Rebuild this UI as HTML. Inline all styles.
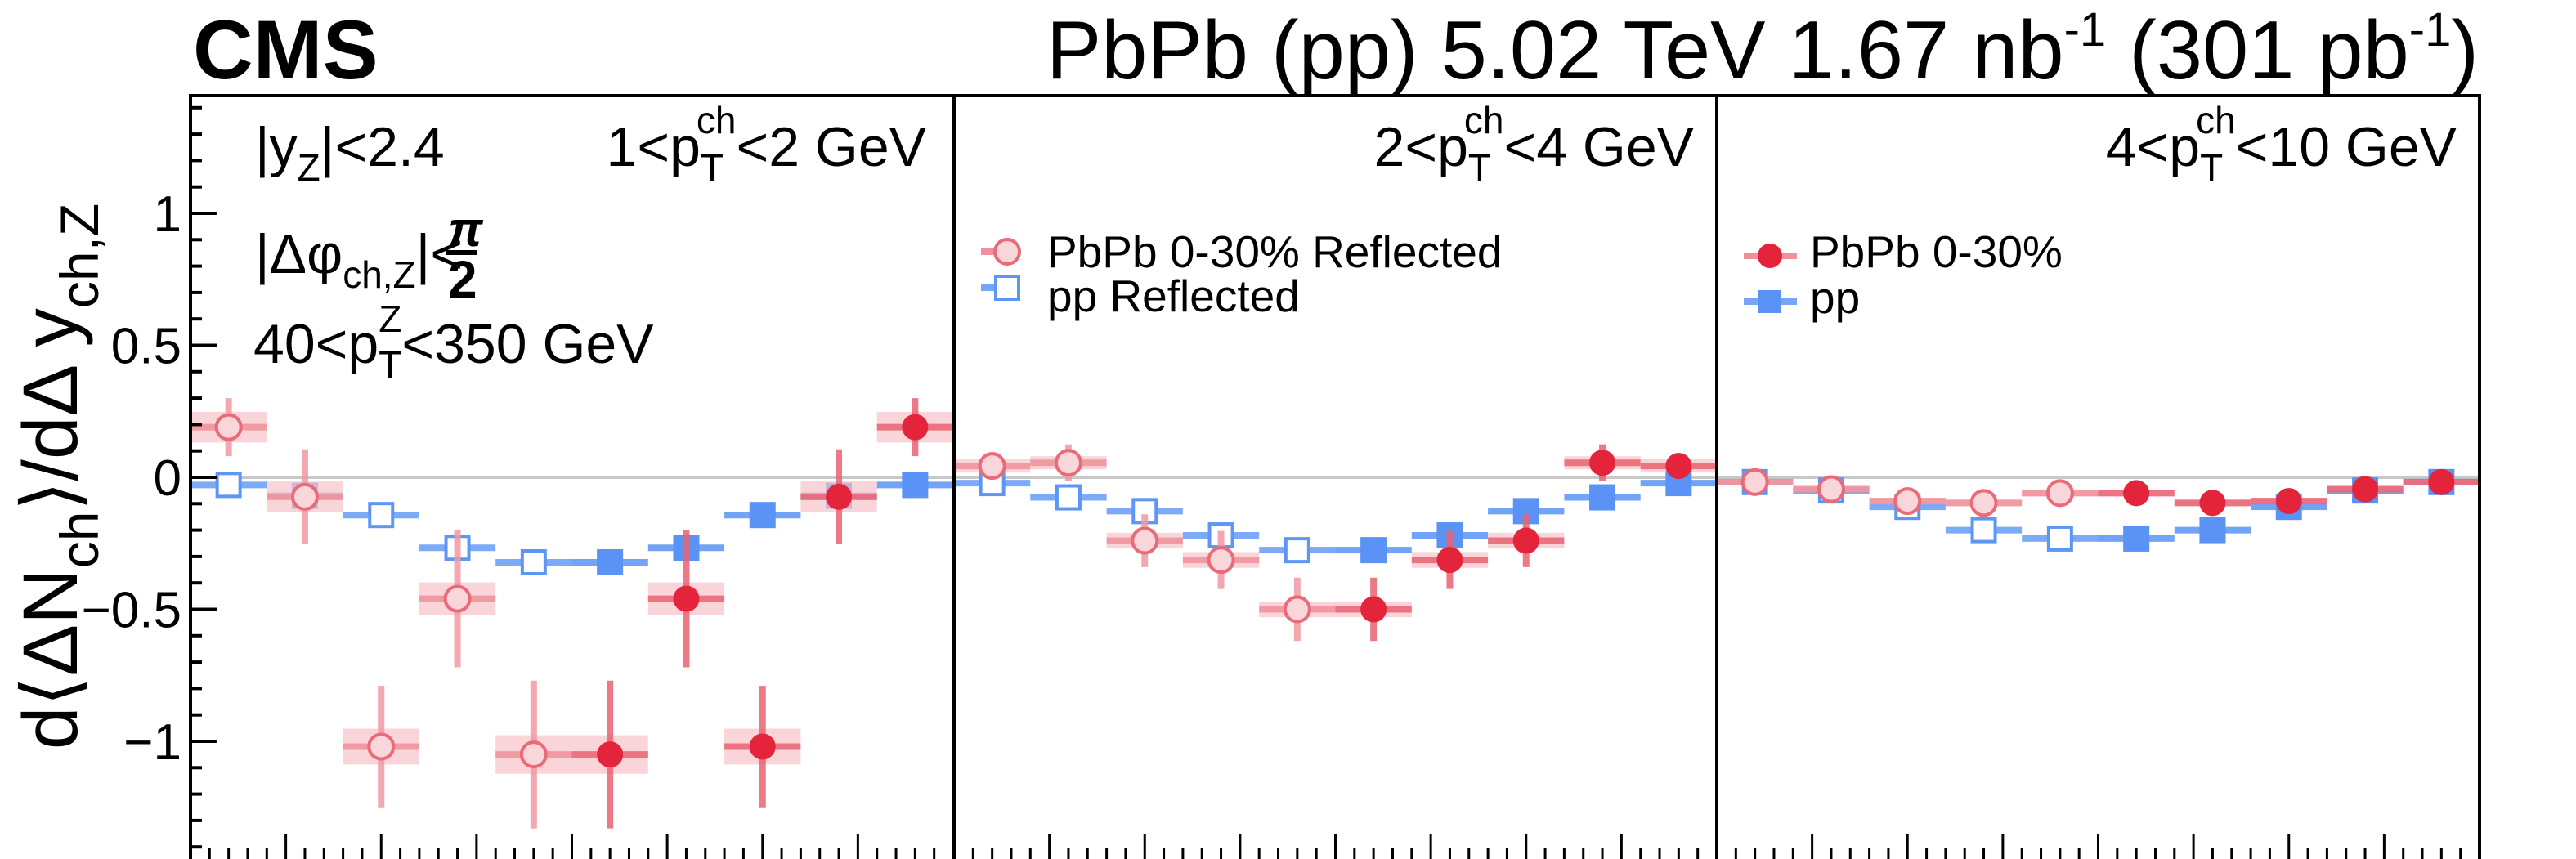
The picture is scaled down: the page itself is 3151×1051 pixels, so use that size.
<!DOCTYPE html>
<html><head><meta charset="utf-8"><style>
html,body{margin:0;padding:0;background:#fff;}
svg{display:block;font-family:"Liberation Sans",sans-serif;}
</style></head><body>
<svg id="chart" width="3151" height="1051" viewBox="0 0 3151 1051" xmlns="http://www.w3.org/2000/svg">
<text x="236" y="96" font-size="102" font-weight="bold">CMS</text>
<text x="3032" y="96" font-size="101" text-anchor="end">PbPb (pp) 5.02 TeV 1.67 nb<tspan dy="-40" font-size="58">-1</tspan><tspan dy="40"> (301 pb</tspan><tspan dy="-40" font-size="58">-1</tspan><tspan dy="40">)</tspan></text>
<text transform="translate(94,583) rotate(-90)" font-size="95" text-anchor="middle">d⟨ΔN<tspan font-size="66" dy="26">ch</tspan><tspan dy="-26">⟩/dΔ y</tspan><tspan font-size="66" dy="26">ch,Z</tspan></text>
<g id="marks"></g>
<g id="frame"></g>
<text x="312" y="203" font-size="68">|y<tspan font-size="46" dy="18">Z</tspan><tspan dy="-18">|&lt;2.4</tspan></text>
<text x="312" y="334" font-size="68">|Δφ<tspan font-size="46" dy="18">ch,Z</tspan><tspan dy="-18">|&lt;</tspan></text>
<text x="548" y="301" font-size="60" font-style="italic" font-weight="bold">π</text>
<rect x="546" y="306" width="38" height="6" fill="#000"/>
<text x="548" y="364" font-size="64" font-weight="bold">2</text>
<text x="310" y="444" font-size="68">40&lt;p<tspan font-size="46" dy="18">T</tspan><tspan font-size="46" dx="-28" dy="-56">Z</tspan><tspan dy="38">&lt;350 GeV</tspan></text>
<text x="1133" y="203" font-size="68" text-anchor="end">1&lt;p<tspan font-size="46" dy="18">T</tspan><tspan font-size="46" dx="-28" dy="-58">ch</tspan><tspan dy="40">&lt;2 GeV</tspan></text>
<text x="2072" y="203" font-size="68" text-anchor="end">2&lt;p<tspan font-size="46" dy="18">T</tspan><tspan font-size="46" dx="-28" dy="-58">ch</tspan><tspan dy="40">&lt;4 GeV</tspan></text>
<text x="3005" y="203" font-size="68" text-anchor="end">4&lt;p<tspan font-size="46" dy="18">T</tspan><tspan font-size="46" dx="-28" dy="-58">ch</tspan><tspan dy="40">&lt;10 GeV</tspan></text>
<g>
<line x1="1200" y1="308" x2="1247" y2="308" stroke="#f0909a" stroke-width="8"/>
<circle cx="1232" cy="308" r="15" fill="#f9d6da" stroke="#ea6a78" stroke-width="4"/>
<text x="1281" y="327" font-size="55">PbPb 0-30% Reflected</text>
<line x1="1200" y1="352" x2="1247" y2="352" stroke="#77a6f7" stroke-width="8"/>
<rect x="1218" y="338" width="28" height="28" fill="#fff" stroke="#5e96f5" stroke-width="4"/>
<text x="1281" y="381" font-size="55">pp Reflected</text>
</g>
<g>
<line x1="2133" y1="313" x2="2198" y2="313" stroke="#f0909a" stroke-width="8"/>
<circle cx="2165" cy="313" r="15" fill="#e3243b"/>
<text x="2214" y="327" font-size="55">PbPb 0-30%</text>
<line x1="2133" y1="369" x2="2198" y2="369" stroke="#77a6f7" stroke-width="8"/>
<rect x="2151" y="355" width="28" height="28" fill="#5a92f5"/>
<text x="2214" y="383" font-size="55">pp</text>
</g>
</svg>
<script>
// data per panel (10 bins each); first 5 = reflected (open), last 5 = direct (filled)
const panels = ["1-2 GeV","2-4 GeV","4-10 GeV"];
const pbpbP1 = [0.19,-0.074,-1.02,-0.46,-1.05,-1.05,-0.46,-1.02,-0.074,0.19];
const pbpbStatP1 = [0.11,0.18,0.23,0.26,0.28,0.28,0.26,0.23,0.18,0.11];
const pbpbSysP1 = [0.058,0.058,0.068,0.062,0.073,0.073,0.062,0.068,0.058,0.058];
const ppP1 = [-0.029,-0.07,-0.143,-0.267,-0.322,-0.322,-0.267,-0.143,-0.07,-0.029];
const pbpbP2 = [0.043,0.055,-0.24,-0.313,-0.5,-0.5,-0.313,-0.24,0.055,0.043];
const pbpbStatP2 = [0.04,0.07,0.1,0.11,0.12,0.12,0.11,0.1,0.07,0.04];
const pbpbSysP2 = [0.025,0.025,0.03,0.03,0.03,0.03,0.03,0.03,0.025,0.025];
const ppP2 = [-0.022,-0.076,-0.128,-0.22,-0.276,-0.276,-0.22,-0.128,-0.076,-0.022];
const pbpbP3 = [-0.018,-0.045,-0.09,-0.097,-0.06,-0.06,-0.097,-0.09,-0.045,-0.018];
const pbpbStatP3 = [0.01,0.01,0.015,0.015,0.015,0.015,0.015,0.015,0.01,0.01];
const pbpbSysP3 = [0.01,0.01,0.012,0.012,0.012,0.012,0.012,0.012,0.01,0.01];
const ppP3 = [-0.018,-0.05,-0.112,-0.2,-0.232,-0.232,-0.2,-0.112,-0.05,-0.018];
const yTickValues = [-1,-0.5,0,0.5,1];
const yTickLabels = ["\u22121","\u22120.5","0","0.5","1"];

const NS="http://www.w3.org/2000/svg";
const panelLeft=[233,1167,2100], panelW=933, plotTop=117, plotBottom=1053;
const nBins=10;
function yS(v){return 584 - v*323;}
function xS(p,i){return panelLeft[p] + panelW*(i+0.5)/nBins;}
function bw(){return panelW/nBins;}
function mk(tag,attrs,parent){const e=document.createElementNS(NS,tag);for(const k in attrs)e.setAttribute(k,attrs[k]);parent.appendChild(e);return e;}
const marks=document.getElementById('marks'), frame=document.getElementById('frame');

const zl=mk('line',{x1:233,x2:3033,y1:yS(0),y2:yS(0),stroke:'#c8c8c8','stroke-width':4},marks);



const pbpbAll=[pbpbP1,pbpbP2,pbpbP3], statAll=[pbpbStatP1,pbpbStatP2,pbpbStatP3], sysAll=[pbpbSysP1,pbpbSysP2,pbpbSysP3], ppAll=[ppP1,ppP2,ppP3];
for(let p=0;p<3;p++){
  const w=bw();
  for(let i=0;i<nBins;i++){
    const x=xS(p,i), y=yS(ppAll[p][i]);
    const refl=i<5;
    const l=mk('line',{x1:x-w/2,x2:x+w/2,y1:y,y2:y,stroke:refl?'#77a6f7':'#6a9ff6','stroke-width':8,opacity:0.95},marks);
    
    
    const s=mk('rect',refl?{x:x-14,y:y-14,width:28,height:28,fill:'#fff',stroke:'#5e96f5','stroke-width':4}:{x:x-16,y:y-16,width:32,height:32,fill:'#5a92f5'},marks);
    
    
  }
  for(let i=0;i<nBins;i++){
    const x=xS(p,i), v=pbpbAll[p][i], y=yS(v);
    const refl=i<5;
    const sys=mk('rect',{x:x-w/2,y:yS(v+sysAll[p][i]),width:w,height:yS(v-sysAll[p][i])-yS(v+sysAll[p][i]),fill:'#f6c3c9',opacity:0.7},marks);
    
    
    const st=mk('line',{x1:x,x2:x,y1:yS(v+statAll[p][i]),y2:yS(v-statAll[p][i]),stroke:refl?'#f09aa4':'#ea6272','stroke-width':8,opacity:0.85},marks);
    
    
    const hl=mk('line',{x1:x-w/2,x2:x+w/2,y1:y,y2:y,stroke:refl?'#f0909a':'#ea6272','stroke-width':8,opacity:0.85},marks);
    
    
    const c=mk('circle',refl?{cx:x,cy:y,r:15,fill:'#f9d6da',stroke:'#ea6a78','stroke-width':4}:{cx:x,cy:y,r:16,fill:'#e3243b'},marks);
    
    
  }
  const fr=mk('rect',{x:panelLeft[p],y:plotTop,width:panelW,height:plotBottom-plotTop,fill:'none',stroke:'#000','stroke-width':4},frame);
  
  
  for(let k=1;k<40;k++){
    const x=panelLeft[p]+panelW*k/40, len=(k%5===0)?33:15;
    const t=mk('line',{x1:x,x2:x,y1:plotBottom,y2:plotBottom-len,stroke:'#000','stroke-width':3},frame);
    
    
  }
}
for(let k=-14;k<=14;k++){
  const v=k/10, y=yS(v), major=(k%5===0);
  const t=mk('line',{x1:233,x2:233+(major?33:14),y1:y,y2:y,stroke:'#000','stroke-width':4},frame);
  
  
}
for(let j=0;j<yTickValues.length;j++){
  const t=mk('text',{x:222,y:yS(yTickValues[j])+22,'font-size':62,'text-anchor':'end'},frame);
  t.textContent=yTickLabels[j];
  
  
}
</script>
</body></html>
